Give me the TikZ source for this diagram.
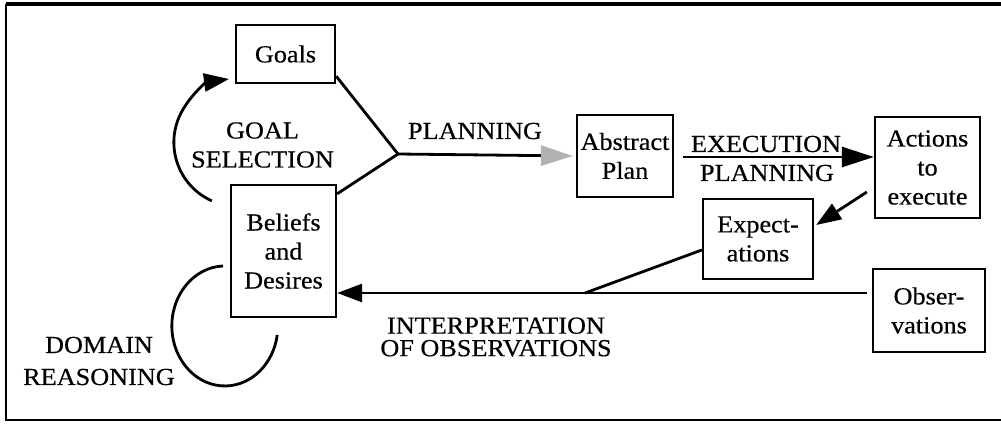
\documentclass[tikz,border=0pt]{standalone}
\usepackage{fontspec}
\setmainfont[FakeStretch=1.07,FakeBold=0.5]{Liberation Serif}
\usetikzlibrary{arrows.meta,calc}
\begin{document}
\begin{tikzpicture}[x=1pt,y=-1pt,
  box/.style={draw,line width=2.3pt,inner sep=0pt,align=center,font=\fontsize{24.5}{29}\selectfont},
  lbl/.style={align=center,inner sep=0pt,font=\fontsize{24.5}{29}\selectfont},
  conn/.style={line width=2.8pt},
  tip/.style={-{Triangle[length=25pt,width=18pt]}},
  bigtip/.style={-{Triangle[length=32pt,width=20pt]}},
  greytip/.style={-{Triangle[length=32pt,width=20pt,color=gray!60,fill=gray!60]}},
]
\useasboundingbox (0,0) rectangle (1001,423);
% frame
\draw[line width=3.5pt] (6,4) -- (1001,4);
\draw[line width=2pt] (6,4) -- (6,420) -- (1001,420);

% boxes
\node[box,minimum width=99,minimum height=58] (goals) at (285.5,54) {Goals};
\node[box,minimum width=105,minimum height=132] (bel) at (283.5,251) {Beliefs\\and\\Desires};
\node[box,minimum width=96,minimum height=82] (abs) at (625,156) {Abstract\\Plan};
\node[box,minimum width=105,minimum height=101] (act) at (927.5,167.5) {Actions\\to\\execute};
\node[box,minimum width=110,minimum height=80] (exp) at (758,239) {Expect-\\ations};
\node[box,minimum width=112,minimum height=83] (obs) at (929,310.5) {Obser-\\vations};

% helper coordinates
\coordinate (J) at (398,154);
\coordinate (M) at (585,293);
\coordinate (gsA) at ($(bel.north west)+(-18,17)$);
\coordinate (drA) at (223,266);

% planning
\draw[conn] ($(goals.south east)+(0,-8)$) -- (J);
\draw[conn] ($(bel.north east)+(0,10)$) -- (J);
\draw[conn,greytip,shorten >=3pt] (J) -- (abs.west);
\node[lbl] (plan1) at (475,131) {PLANNING};

% execution planning
\draw[conn,bigtip] ($(abs.east)+(9,1)$) -- ($(act.west)+(0,-10.5)$);
\node[lbl] (exe) at (766,144) {EXECUTION};
\node[lbl] (plan2) at (767,173) {PLANNING};

% actions -> expectations
\draw[conn,tip] ($(act.west)+(-7,24.5)$) -- ($(exp.east)+(2,-14)$);

% expectations joins interpretation line
\draw[conn] ($(exp.west)+(0,11)$) -- (M);

% observations -> beliefs
\draw[conn,tip] ($(obs.west)+(-5,-17.5)$) -- ($(bel.east)+(0,42)$);
\node[align=center,inner sep=0pt,font=\fontsize{24.5}{22.5}\selectfont] (interp) at (496,337) {INTERPRETATION\\OF OBSERVATIONS};

% goal selection
\draw[conn,tip] (gsA) arc[start angle=114,end angle=262,radius=64];
\node[lbl] (gsl) at (262.5,145) {GOAL\\SELECTION};

% domain reasoning
\draw[conn] (drA) arc[start angle=268,end angle=8.6,x radius=53,y radius=60];
\node[align=center,inner sep=0pt,font=\fontsize{24.5}{32}\selectfont] (drl) at (99,361) {DOMAIN\\REASONING};
\end{tikzpicture}
\end{document}
